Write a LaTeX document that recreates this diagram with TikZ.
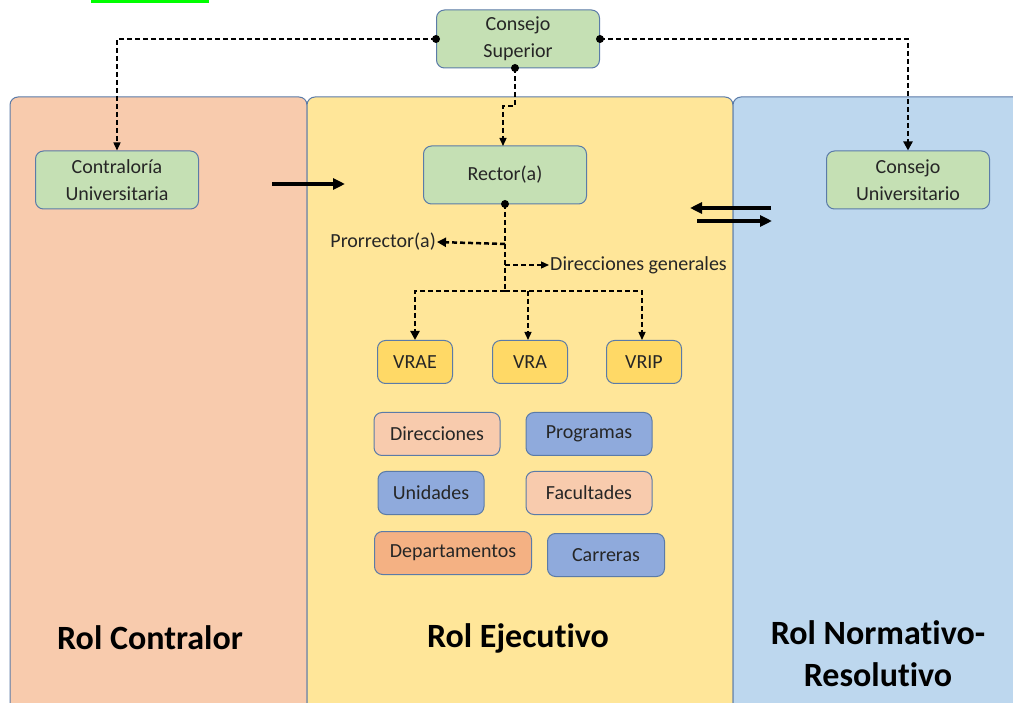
\documentclass[tikz,border=0pt]{standalone}
\usepackage{fontspec}
\setmainfont[Ligatures={NoCommon}]{Carlito}
\usetikzlibrary{arrows.meta}
\definecolor{salmon}{HTML}{F8CBAD}
\definecolor{yel}{HTML}{FFE699}
\definecolor{lblue}{HTML}{BDD7EE}
\definecolor{grn}{HTML}{C5E0B4}
\definecolor{gold}{HTML}{FFD966}
\definecolor{mblue}{HTML}{8FAADC}
\definecolor{orng}{HTML}{F4B183}
\definecolor{edge}{HTML}{5B7BA8}
\definecolor{txt}{HTML}{262626}
\tikzset{
  box/.style={draw=edge, line width=1pt, rounded corners=8pt, align=center, font=\fontsize{20}{27}\selectfont, text=txt, inner sep=0pt},
  gbox/.style={box, fill=grn, minimum width=163pt, minimum height=58pt},
  sbox/.style={box, minimum height=43pt},
  panel/.style={draw=edge, line width=1pt, rounded corners=8pt},
  dthin/.style={dash pattern=on 5pt off 3pt, line width=1.3pt, -{Triangle[length=8pt,width=7pt]}},
  dthick/.style={dash pattern=on 5pt off 3pt, line width=2.5pt, -{Triangle[length=9pt,width=9pt]}},
  solidarr/.style={line width=3.5pt, -{Triangle[length=12pt,width=11pt]}},
  dot/.style={circle, fill=black, inner sep=0pt, minimum size=8pt},
  lbl/.style={font=\fontsize{20}{24}\selectfont, text=txt, inner sep=1pt},
  big/.style={font=\fontsize{34}{42}\selectfont\bfseries, text=black, align=center}
}
\begin{document}
\begin{tikzpicture}[x=1pt,y=-1pt]
\useasboundingbox (0,0) rectangle (1013,703);
\fill[white] (0,0) rectangle (1013,703);
\fill[green] (91,-1) rectangle (209,3);
% panels
\begin{scope}
\clip (0,0) rectangle (1013,703);
\draw[panel, fill=salmon] (10,720) -- (10,97) -- (307,97) -- (307,720);
\draw[panel, fill=yel] (307,720) -- (307,97) -- (733,97) -- (733,720);
\draw[panel, fill=lblue] (733,720) -- (733,97) -- (1030,97) -- (1030,720);
\end{scope}
% nodes
\node[gbox] (cs) at (518,39) {Consejo\\Superior};
\node[gbox] (cu) at (117,180) {Contraloría\\Universitaria};
\node[gbox] (rc) at (505,175) {Rector(a)};
\node[gbox] (cun) at (908,180) {Consejo\\Universitario};
\node[sbox, fill=gold, minimum width=75pt] (vrae) at (415,362) {VRAE};
\node[sbox, fill=gold, minimum width=75pt] (vra) at (530,362) {VRA};
\node[sbox, fill=gold, minimum width=75pt] (vrip) at (644,362) {VRIP};
\node[sbox, fill=salmon, minimum width=126pt] (dir) at (437,434) {Direcciones};
\node[sbox, fill=mblue, minimum width=126pt] (prog) at (589,434) {Programas};
\node[sbox, fill=mblue, minimum width=106pt] (uni) at (431,493) {Unidades};
\node[sbox, fill=salmon, minimum width=126pt] (fac) at (589,493) {Facultades};
\node[sbox, fill=orng, minimum width=157pt] (dep) at (453,553) {Departamentos};
\node[sbox, fill=mblue, minimum width=117pt] (car) at (606,555) {Carreras};
% labels
\node[lbl, anchor=east] (pro) at (437,242) {Prorrector(a)};
\node[lbl, anchor=west] (dg) at (549,265) {Direcciones generales};
\node[big] (rcon) at (150,638) {Rol Contralor};
\node[big] (rej) at (518,638) {Rol Ejecutivo};
\node[big] (rnr) at (878,654) {Rol Normativo-\\Resolutivo};
% connector points
\coordinate (csl) at (cs.west);
\coordinate (csr) at (cs.east);
\coordinate (csb) at (515,68);
\coordinate (rcb) at (505,204);
\coordinate (rct) at (503,146);
\coordinate (j1) at (505,244);
\coordinate (j2) at (505,265);
\coordinate (j3) at (505,291);
\coordinate (j4) at (528,291);
% top connectors
\draw[dthin] (csl) -- (117,39) -- (cu.north);
\draw[dthick] (csr) -- (908,39) -- (cun.north);
\draw[dthin] (csb) -- (515,106) -- (503,106) -- (rct);
\node[dot] at (csl) {};
\node[dot] at (csr) {};
\node[dot] at (csb) {};
% rector branches
\draw[dthick, -] (rcb) -- (j3);
\draw[dthick] (j1) -- (pro.east);
\draw[dthin] (j2) -- (dg.west);
\draw[dthick] (j3) -| (vrae.north);
\draw[dthin] (j3) -| ([xshift=-2pt]vrip.north);
\draw[dthin] (j4) -- (vra.north -| j4);
\node[dot] at (rcb) {};
% solid arrows
\coordinate (a1) at (272,184);
\coordinate (a2) at (345,184);
\draw[solidarr] (a1) -- (a2);
\coordinate (b1) at (771,208);
\coordinate (b2) at (690,208);
\draw[solidarr] (b1) -- (b2);
\coordinate (c1) at (697,221);
\coordinate (c2) at (772,221);
\draw[solidarr] (c1) -- (c2);
\end{tikzpicture}
\end{document}
